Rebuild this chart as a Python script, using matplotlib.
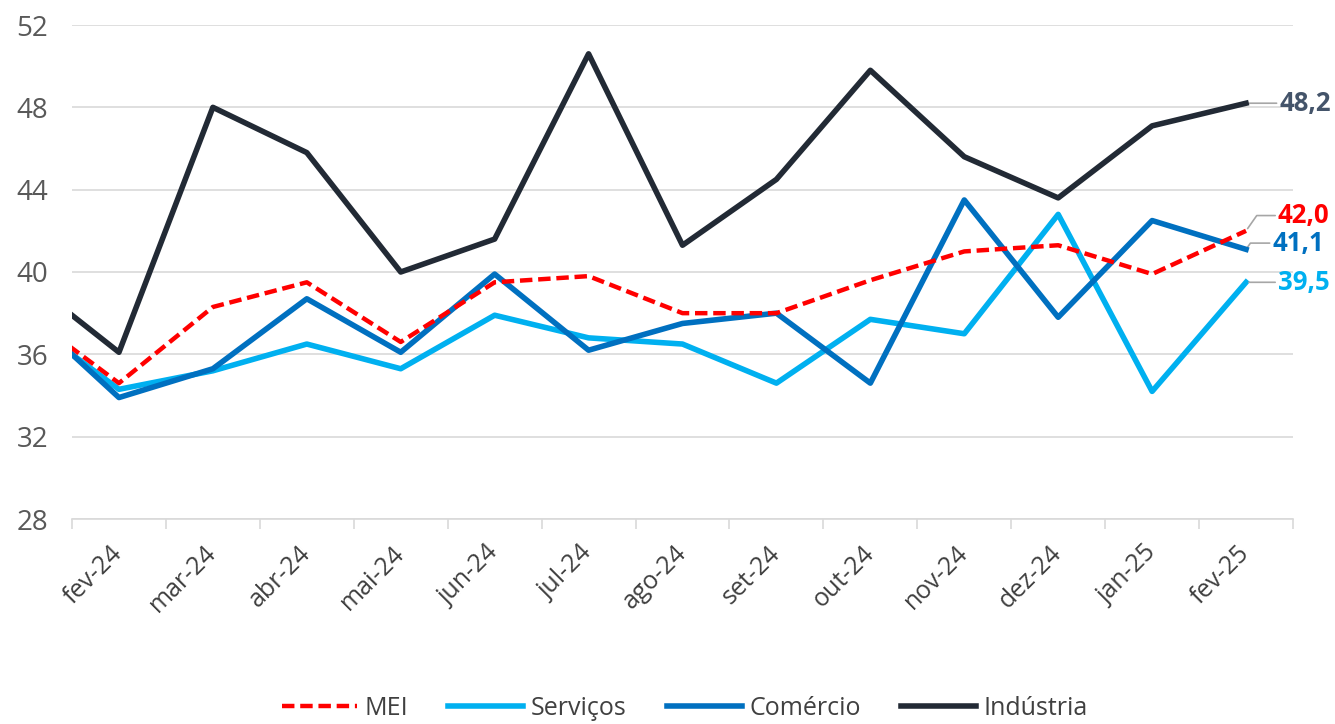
import numpy as np
import matplotlib
matplotlib.use("Agg")
import matplotlib.pyplot as plt
from matplotlib.ticker import FixedLocator

plt.rcParams['font.family'] = ['Open Sans', 'DejaVu Sans']

# 数据：jan-24 只用来画出左侧被裁掉的线段
meses = ['jan-24', 'fev-24', 'mar-24', 'abr-24', 'mai-24', 'jun-24', 'jul-24',
         'ago-24', 'set-24', 'out-24', 'nov-24', 'dez-24', 'jan-25', 'fev-25']
mei = [38.0, 34.6, 38.3, 39.5, 36.6, 39.5, 39.8, 38.0, 38.0, 39.6, 41.0, 41.3, 39.9, 42.0]
servicos = [37.7, 34.3, 35.2, 36.5, 35.3, 37.9, 36.8, 36.5, 34.6, 37.7, 37.0, 42.8, 34.2, 39.5]
comercio = [38.1, 33.9, 35.3, 38.7, 36.1, 39.9, 36.2, 37.5, 38.0, 34.6, 43.5, 37.8, 42.5, 41.1]
industria = [39.7, 36.1, 48.0, 45.8, 40.0, 41.6, 50.6, 41.3, 44.5, 49.8, 45.6, 43.6, 47.1, 48.2]
y_ticks = [28, 32, 36, 40, 44, 48, 52]

# 颜色
c_mei = '#FF0000'
c_serv = '#00B0F0'
c_com = '#0070C0'
c_ind = '#222A35'
c_grid = '#D9D9D9'
c_txt = '#404040'

fig = plt.figure(figsize=(13.35, 7.24), dpi=100)
ax = fig.add_axes([72 / 1335, 1 - 519 / 724, (1293 - 72) / 1335, (519 - 25) / 724])

x = np.arange(len(meses))
lw = 4.0
ax.plot(x, mei, color=c_mei, lw=3.2, ls=(0, (2.8, 1.3)), label='MEI',
        solid_joinstyle='round', dash_capstyle='butt', zorder=5)
ax.plot(x, servicos, color=c_serv, lw=lw, label='Serviços', solid_joinstyle='round', zorder=3)
ax.plot(x, comercio, color=c_com, lw=lw, label='Comércio', solid_joinstyle='round', zorder=4)
ax.plot(x, industria, color=c_ind, lw=lw, label='Indústria', solid_joinstyle='round', zorder=4)

# 坐标轴
ax.set_xlim(0.5, len(meses) - 0.5)
ax.set_ylim(y_ticks[0], y_ticks[-1])
ax.set_yticks(y_ticks)
ax.set_xticks(x[1:])
ax.set_xticklabels(meses[1:], rotation=45, ha='right', va='center',
                   rotation_mode='anchor', fontsize=18, color=c_txt)
ax.xaxis.set_minor_locator(FixedLocator(np.arange(0.5, len(meses), 1.0)))
ax.tick_params(axis='x', which='major', length=0, pad=22)
ax.tick_params(axis='x', which='minor', length=7.5, width=1.2, color=c_grid)
ax.tick_params(axis='y', length=0, pad=17, labelsize=20, labelcolor='#595959')
ax.grid(axis='y', color=c_grid, lw=1.2)
ax.set_axisbelow(True)
for s in ['top', 'right', 'left']:
    ax.spines[s].set_visible(False)
ax.spines['bottom'].set_color(c_grid)
ax.spines['bottom'].set_linewidth(1.2)

# 末端数据标签（带引线）
ultimo = len(meses) - 1
rotulos = [
    (industria[-1], '#44546A', (24, 0)),
    (mei[-1], c_mei, (23, 11)),
    (comercio[-1], c_com, (19, 4.5)),
    (servicos[-1], c_serv, (23, 0)),
]
for val, cor, (dx, dy) in rotulos:
    ax.annotate(f'{val:.1f}'.replace('.', ','), xy=(ultimo, val),
                xytext=(dx, dy), textcoords='offset points',
                ha='left', va='center', fontsize=18.5, fontweight='bold', color=cor,
                annotation_clip=False,
                arrowprops=dict(arrowstyle='-', color='#A6A6A6', lw=1.2,
                                shrinkA=0, shrinkB=2,
                                connectionstyle='angle,angleA=0,angleB=55,rad=0'
                                if dy else 'arc3'))

# 图例
fig.legend(loc='center', bbox_to_anchor=(0.513, 0.022), ncol=4, frameon=False,
           fontsize=18, handlelength=3.0, handletextpad=0.3, columnspacing=1.6,
           labelcolor=c_txt)

plt.savefig('out.png', dpi=100)
plt.close()
